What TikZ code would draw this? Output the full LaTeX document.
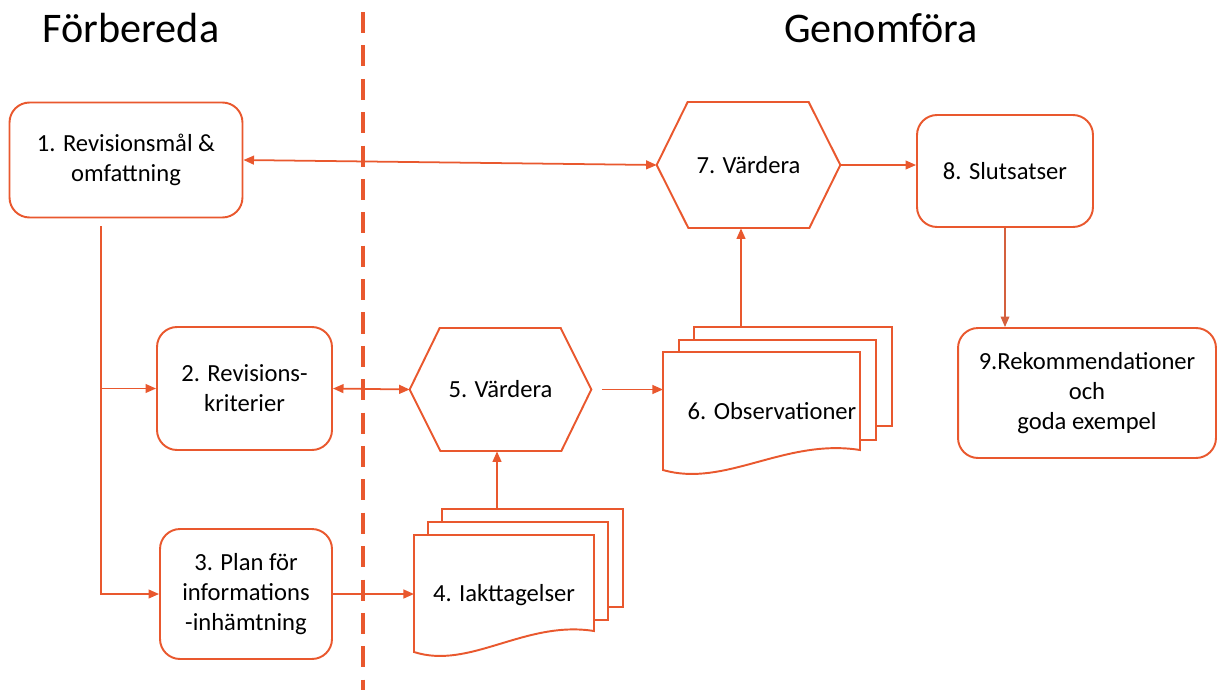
\documentclass[tikz,border=0pt]{standalone}
\usepackage{fontspec}
\setmainfont{Carlito}
\usetikzlibrary{arrows.meta}
\definecolor{rodorange}{RGB}{233,88,46}
\begin{document}
\begin{tikzpicture}[x=0.02cm, y=-0.02cm, font=\fontsize{14}{17}\selectfont,
  box/.style={draw=rodorange, line width=1.1pt, rounded corners=0.4cm, align=center, fill=white},
  hexa/.style={align=center, inner sep=0pt},
  hexlinje/.style={draw=rodorange, line width=1.1pt},
  doc/.style={draw=rodorange, line width=1.1pt, fill=white},
  pil/.style={draw=rodorange, line width=1pt, -{Triangle[length=6pt,width=5pt]}},
  dubbelpil/.style={pil, {Triangle[length=6pt,width=5pt]}-{Triangle[length=6pt,width=5pt]}},
  rubrik/.style={font=\fontsize{24}{28}\selectfont}]
\useasboundingbox (0,0) rectangle (1217,690);
\draw[rodorange, line width=2.3pt, dash pattern=on 12pt off 7pt] (363,12) -- (363,690);
\node[rubrik] (forb) at (131,28) {Förbereda};
\node[rubrik] (genf) at (881,28) {Genomföra};
\node[box, minimum width=4.66cm, minimum height=2.3cm] (n1) at (126,160) {1. Revisionsmål \&\\omfattning};
\node[box, minimum width=3.5cm, minimum height=2.46cm] (n2) at (244.5,388.5) {2. Revisions-\\kriterier};
\node[box, minimum width=3.44cm, minimum height=2.6cm] (n3) at (246,594) {3. Plan för\\informations\\-inhämtning};
\node[box, minimum width=3.52cm, minimum height=2.24cm] (n8) at (1005,171) {8. Slutsatser};
\node[box, minimum width=5.16cm, minimum height=2.6cm] (n9) at (1087,393) {9.Rekommendationer\\och\\goda exempel};
\node[hexa, minimum width=3.62cm, minimum height=2.46cm] (v5) at (500.5,389.5) {5. Värdera};
\draw[hexlinje] (v5.west) -- ++(30,-61.5) -- ++(121,0) -- (v5.east) -- ++(-30,61.5) -- ++(-121,0) -- cycle;
\node[hexa, minimum width=3.66cm, minimum height=2.52cm] (v7) at (748.5,165) {7. Värdera};
\draw[hexlinje] (v7.west) -- ++(31,-63) -- ++(121,0) -- (v7.east) -- ++(-31,63) -- ++(-121,0) -- cycle;
\draw[doc] (442,509) rectangle (623,607);
\draw[doc] (428,522) rectangle (608,620);
\draw[doc] (414,535) -- (594,535) -- (594,631) .. controls (525,620) and (470,670) .. (414,652) -- cycle;
\node (d4) at (504,595) {4. Iakttagelser};
\coordinate (d4top) at (497,509);
\draw[doc] (694,327) rectangle (892,426);
\draw[doc] (679,340) rectangle (876,440);
\draw[doc] (663,352) -- (860,352) -- (860,450) .. controls (785,438) and (725,488) .. (663,470) -- cycle;
\node (d6) at (772,411) {6. Observationer};
\coordinate (d6top) at (741,327);
\coordinate (stam) at (101,226);
\draw[dubbelpil] (n1.east) -- (v7.west);
\draw[pil] (v7.east) -- (v7.east -| n8.west);
\draw[draw=rodorange!80!gray, line width=0.6pt, -{Triangle[length=6pt,width=5pt]}] (n8.south) -- (n8.south |- n9.north);
\draw[pil] (d6top) -- (d6top |- v7.south);
\draw[pil, shorten <=6pt] (v5.east) -- (v5.east -| 663,0);
\draw[dubbelpil] (n2.east) -- (v5.west);
\draw[pil] (d4top) -- (d4top |- v5.south);
\draw[pil] (n3.east) -- (n3.east -| 414,0);
\draw[pil] (stam) |- (n3.west);
\draw[pil] (stam |- n2.west) -- (n2.west);
\end{tikzpicture}
\end{document}
